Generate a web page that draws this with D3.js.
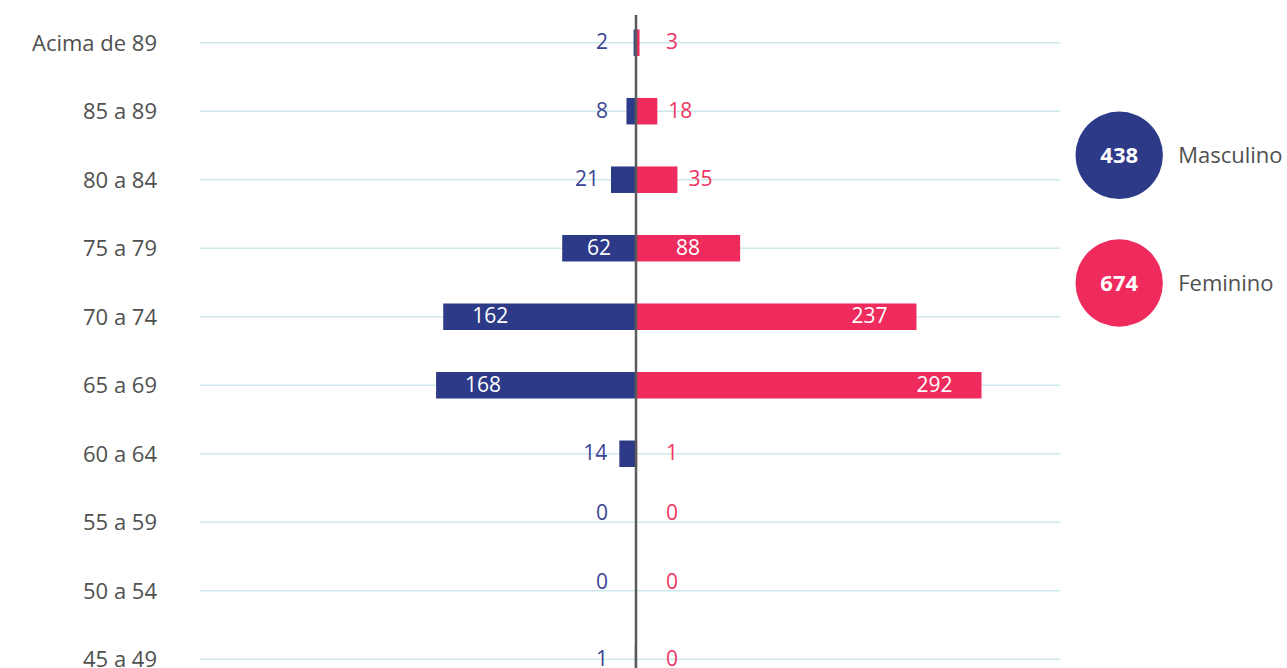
<!DOCTYPE html>
<html>
<head>
<meta charset="utf-8">
<script src="https://cdn.jsdelivr.net/npm/d3@7"></script>
<style>
  html, body { margin: 0; padding: 0; background: #ffffff; }
  svg { display: block; }
  text { font-family: "Open Sans", "Noto Sans", sans-serif; }
</style>
</head>
<body>
<div id="chart"></div>
<script>
// Age groups, top to bottom
const ageGroups = ["Acima de 89", "85 a 89", "80 a 84", "75 a 79", "70 a 74",
                   "65 a 69", "60 a 64", "55 a 59", "50 a 54", "45 a 49"];
// Counts per age group
const masculino = [2, 8, 21, 62, 162, 168, 14, 0, 0, 1];
const feminino  = [3, 18, 35, 88, 237, 292, 1, 0, 0, 0];
// Legend
const legendLabels = ["Masculino", "Feminino"];
const legendTotals = [438, 674];

const W = 1287, H = 668;
const NAVY = "#2c3a87", PINK = "#ef2a5d";
const NAVY_TEXT = "#3b4493", PINK_TEXT = "#ee3563";

const svg = d3.select("#chart").append("svg")
  .attr("width", W).attr("height", H)
  .attr("viewBox", `0 0 ${W} ${H}`);

const axisX = 636;
const y = d3.scalePoint().domain(ageGroups).range([42.7, 659.3]);
const xM = d3.scaleLinear().domain([0, 300]).range([axisX, axisX - 357]);
const xF = d3.scaleLinear().domain([0, 300]).range([axisX, axisX + 355]);
const barH = 26.5;

// Grid lines
svg.append("g").selectAll("line").data(ageGroups).join("line")
  .attr("x1", 200).attr("x2", 1060)
  .attr("y1", d => y(d)).attr("y2", d => y(d))
  .attr("stroke", "#cde9ec").attr("stroke-width", 1.5);

// Category labels
svg.append("g").selectAll("text").data(ageGroups).join("text")
  .attr("x", 157).attr("y", d => y(d))
  .attr("dy", "0.36em")
  .attr("text-anchor", "end")
  .attr("font-size", 22)
  .attr("fill", "#505050")
  .text(d => d);

// Rows with no bar on either side carry their labels on the line
const rowsM = ageGroups.map((g, i) => ({ g, v: masculino[i], empty: masculino[i] + feminino[i] === 0 }));
const rowsF = ageGroups.map((g, i) => ({ g, v: feminino[i], empty: masculino[i] + feminino[i] === 0 }));

// Bars
svg.append("g").selectAll("rect").data(rowsM).join("rect")
  .attr("x", d => xM(d.v)).attr("width", d => axisX - xM(d.v))
  .attr("y", d => y(d.g) - barH / 2).attr("height", barH)
  .attr("fill", NAVY);
svg.append("g").selectAll("rect").data(rowsF).join("rect")
  .attr("x", axisX).attr("width", d => xF(d.v) - axisX)
  .attr("y", d => y(d.g) - barH / 2).attr("height", barH)
  .attr("fill", PINK);

// Value labels: long bars carry the number near their outer end,
// medium bars centre it, short bars put it just outside.
function placeLabel(d, side) {
  const w = side < 0 ? axisX - xM(d.v) : xF(d.v) - axisX;
  if (w > 150) return { x: axisX + side * (w - 29), anchor: side < 0 ? "start" : "end", inside: true };
  if (w > 60) return { x: axisX + side * w / 2, anchor: "middle", inside: true };
  const off = side < 0 ? Math.max(w + 12, 28) : Math.max(w + 11, 30);
  return { x: axisX + side * off, anchor: side < 0 ? "end" : "start", inside: false };
}

function drawLabels(rows, side, color) {
  svg.append("g").selectAll("text").data(rows).join("text")
    .each(function (d) {
      const p = placeLabel(d, side);
      d3.select(this)
        .attr("x", p.x)
        .attr("y", d.empty ? y(d.g) - 2 : y(d.g) - 1)
        .attr("dy", d.empty ? "0em" : "0.36em")
        .attr("text-anchor", p.anchor)
        .attr("fill", p.inside ? "#ffffff" : color);
    })
    .attr("font-size", 21)
    .text(d => d.v);
}
drawLabels(rowsM, -1, NAVY_TEXT);
drawLabels(rowsF, 1, PINK_TEXT);

// Central axis
svg.append("line")
  .attr("x1", axisX).attr("x2", axisX)
  .attr("y1", 15).attr("y2", H)
  .attr("stroke", "#5a5a5a").attr("stroke-width", 2.5);

// Legend
const legendY = d3.scalePoint().domain(legendLabels).range([155.3, 283]);
const legendColor = d3.scaleOrdinal().domain(legendLabels).range([NAVY, PINK]);
const lg = svg.append("g").selectAll("g").data(legendLabels).join("g")
  .attr("transform", d => `translate(1119.2, ${legendY(d)})`);
lg.append("circle").attr("r", 43.7).attr("fill", d => legendColor(d));
lg.append("text")
  .attr("text-anchor", "middle").attr("dy", "0.36em")
  .attr("font-size", 22).attr("font-weight", 700).attr("fill", "#ffffff")
  .text((d, i) => legendTotals[i]);
lg.append("text")
  .attr("x", 59).attr("dy", "0.36em")
  .attr("font-size", 22).attr("fill", "#505050")
  .text(d => d);
</script>
</body>
</html>
